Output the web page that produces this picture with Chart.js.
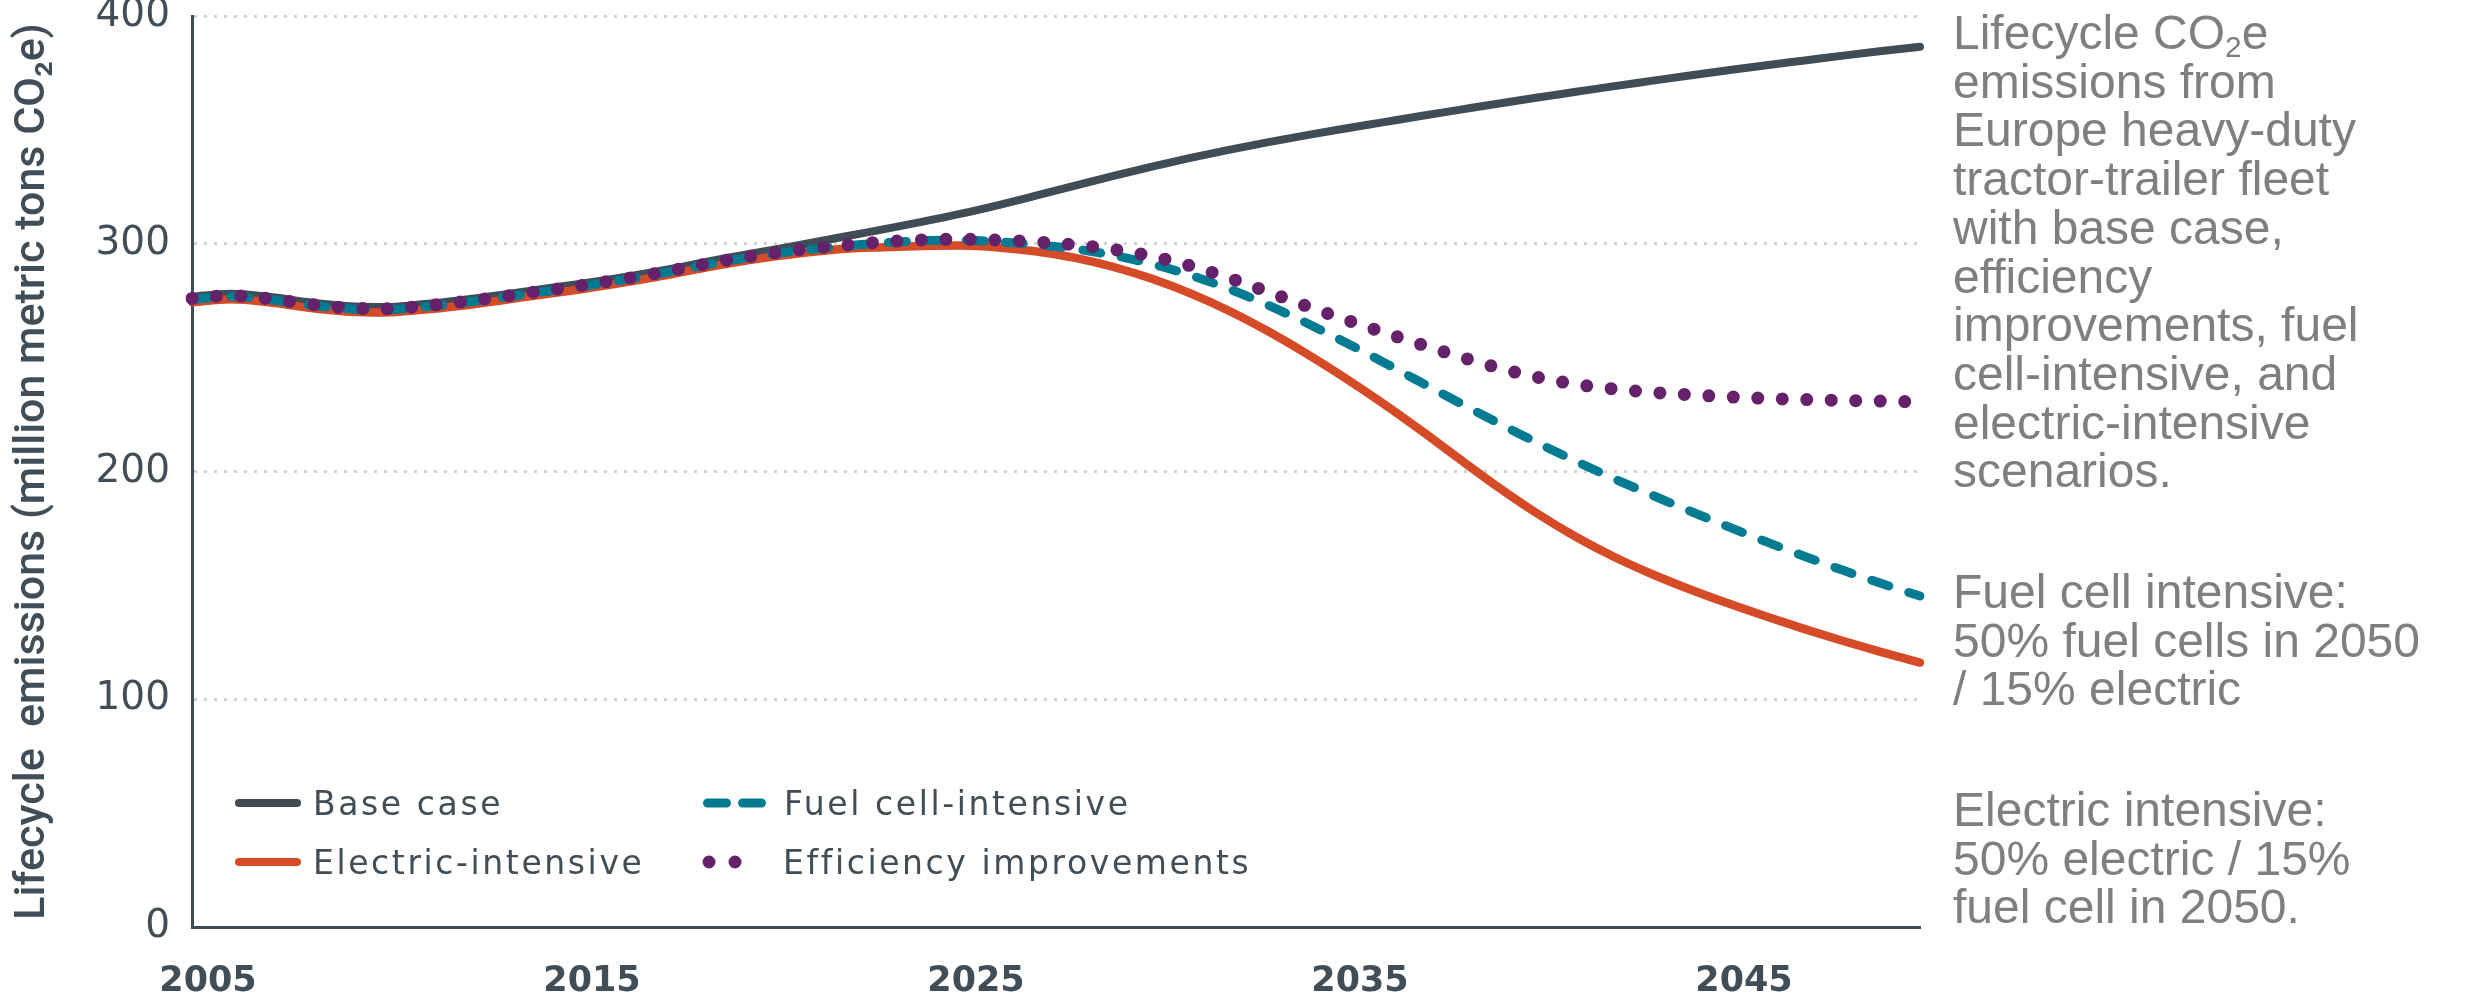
<!DOCTYPE html>
<html>
<head>
<meta charset="utf-8">
<script src="https://cdn.jsdelivr.net/npm/chart.js@4.4.1/dist/chart.umd.min.js"></script>
<style>
  html, body { margin: 0; padding: 0; background: #fff; }
  #wrap { position: relative; width: 2471px; height: 1002px; overflow: hidden; }
  #chart { position: absolute; left: 0; top: 0; }
  .note {
    position: absolute; left: 1953px;
    font-family: "Liberation Sans", Arial, sans-serif;
    font-size: 48px; line-height: 48.7px; color: #7f7f7f; white-space: nowrap;
  }
  .note sub { font-size: 0.62em; line-height: 0; vertical-align: -0.28em; }
  .key {
    position: absolute; height: 40px; display: flex; align-items: center;
    font-family: "DejaVu Sans", sans-serif; font-size: 33px; letter-spacing: 2.6px;
    color: #414d57; white-space: nowrap;
  }
  .key svg { flex: none; }
</style>
</head>
<body>
<div id="wrap">
  <canvas id="chart" width="2471" height="1002"></canvas>
  <div id="legend"></div>
  <div class="note" style="top:9px">Lifecycle CO<sub>2</sub>e<br>emissions from<br>Europe heavy-duty<br>tractor-trailer fleet<br>with base case,<br>efficiency<br>improvements, fuel<br>cell-intensive, and<br>electric-intensive<br>scenarios.</div>
  <div class="note" style="top:568px">Fuel cell intensive:<br>50% fuel cells in 2050<br>/ 15% electric</div>
  <div class="note" style="top:786px">Electric intensive:<br>50% electric / 15%<br>fuel cell in 2050.</div>
</div>
<script>
const years = ['2005','2006','2007','2008','2009','2010','2011','2012','2013','2014',
  '2015','2016','2017','2018','2019','2020','2021','2022','2023','2024',
  '2025','2026','2027','2028','2029','2030','2031','2032','2033','2034',
  '2035','2036','2037','2038','2039','2040','2041','2042','2043','2044',
  '2045','2046','2047','2048','2049','2050'];
const xTickLabels = ['2005', '2015', '2025', '2035', '2045'];

const baseCase = [276.8, 278.0, 276.7, 274.4, 272.7, 272.2, 273.4, 275.2, 277.4, 279.8,
  282.1, 284.7, 287.5, 290.7, 294.0, 297.0, 300.0, 303.2, 306.3, 309.6,
  313.1, 317.0, 321.2, 325.5, 329.8, 333.9, 337.7, 341.2, 344.5, 347.6,
  350.5, 353.3, 356.1, 358.8, 361.5, 364.1, 366.6, 369.1, 371.5, 373.9,
  376.2, 378.4, 380.5, 382.6, 384.6, 386.5];
const electricIntensive = [274.4, 275.6, 274.3, 272.0, 270.3, 269.8, 271.0, 272.8, 275.0, 277.4,
  279.7, 282.3, 285.1, 288.3, 291.4, 294.0, 296.1, 297.8, 298.5, 299.0,
  299.2, 298.4, 296.6, 293.8, 289.8, 284.6, 278.2, 270.6, 261.8, 252.0,
  241.4, 230.1, 218.1, 205.6, 193.3, 181.9, 171.7, 162.8, 155.1, 148.3,
  142.1, 136.3, 130.8, 125.6, 120.7, 116.1];
const fuelCellIntensive = [275.6, 276.8, 275.5, 273.2, 271.5, 271.0, 272.2, 274.0, 276.2, 278.6,
  280.9, 283.5, 286.3, 289.5, 292.6, 295.2, 297.3, 299.0, 300.4, 301.3,
  301.6, 300.8, 299.6, 297.7, 294.9, 291.1, 286.2, 280.2, 273.2, 265.4,
  257.0, 248.2, 239.2, 230.2, 221.4, 212.9, 204.8, 197.1, 189.8, 182.7,
  175.8, 169.1, 162.7, 156.6, 150.8, 145.3];
const efficiencyImprovements = [276.0, 277.2, 275.9, 273.6, 271.9, 271.4, 272.6, 274.4, 276.6, 279.0,
  281.3, 283.9, 286.7, 289.9, 293.0, 295.6, 297.7, 299.4, 300.8, 301.7,
  302.0, 301.6, 300.8, 299.5, 297.5, 294.5, 290.3, 285.0, 279.0, 272.8,
  266.9, 261.3, 255.8, 250.5, 245.6, 241.5, 238.4, 236.3, 234.8, 233.7,
  232.8, 232.1, 231.6, 231.2, 230.9, 230.6];

const axisColor = '#414d57';
const colors = {
  base: '#404c56',
  electric: '#d64b27',
  fuel: '#007b92',
  eff: '#65226a'
};

const datasets = [
  {
    label: 'Base case', data: baseCase, borderColor: colors.base,
    borderWidth: 8, order: 4
  },
  {
    label: 'Electric-intensive', data: electricIntensive, borderColor: colors.electric,
    borderWidth: 8.5, order: 3
  },
  {
    label: 'Fuel cell-intensive', data: fuelCellIntensive, borderColor: colors.fuel,
    borderWidth: 9, borderDash: [18, 21], order: 2
  },
  {
    label: 'Efficiency improvements', data: efficiencyImprovements, borderColor: colors.eff,
    borderWidth: 13, borderDash: [0, 24.5], order: 1
  }
];
datasets.forEach(d => {
  d.pointRadius = 0;
  d.fill = false;
  d.cubicInterpolationMode = 'monotone';
  d.borderCapStyle = 'round';
  d.borderJoinStyle = 'round';
});

new Chart(document.getElementById('chart'), {
  type: 'line',
  data: { labels: years, datasets },
  options: {
    responsive: false,
    animation: false,
    events: [],
    layout: { padding: { top: 16, right: 551, bottom: 0, left: 0 } },
    plugins: { legend: { display: false }, tooltip: { enabled: false } },
    scales: {
      x: {
        grid: { display: false },
        border: { display: true, color: axisColor, width: 3 },
        ticks: {
          autoSkip: false, maxRotation: 0, padding: 26, labelOffset: 16,
          color: axisColor,
          font: { family: '"DejaVu Sans", sans-serif', size: 35, weight: 'bold' },
          callback: function (v) {
            const lbl = this.getLabelForValue(v);
            return xTickLabels.includes(lbl) ? lbl : '';
          }
        },
        afterFit: s => { s.height = 75; s.paddingLeft = 0; s.paddingRight = 0; }
      },
      y: {
        min: 0, max: 400,
        grid: { color: '#d3d3d3', lineWidth: 3, drawTicks: false },
        border: { display: true, color: axisColor, width: 3, dash: [3, 7] },
        ticks: {
          stepSize: 100, padding: 22, color: axisColor,
          font: { family: '"DejaVu Sans", sans-serif', size: 39 }
        },
        title: {
          display: true,
          text: 'Lifecycle  emissions (million metric tons CO₂e)',
          color: axisColor,
          font: { family: 'Roboto, sans-serif', size: 43, weight: '500' },
          padding: { top: 7, bottom: 0 }
        },
        afterFit: s => { s.width = 192; s.paddingTop = 0; s.paddingBottom = 0; }
      }
    }
  }
});

// legend, placed inside the plot area like the original
const legendSpots = [
  { i: 0, left: 235, top: 783, gap: 12 },
  { i: 2, left: 703, top: 783, gap: 15 },
  { i: 1, left: 235, top: 842, gap: 12 },
  { i: 3, left: 702, top: 842, gap: 15 }
];
function swatch(ds) {
  let line;
  if (ds.borderDash && ds.borderDash[0] === 0) {
    line = '<line x1="7" y1="8" x2="59" y2="8" stroke-width="13" stroke-dasharray="0 26"';
  } else if (ds.borderDash) {
    line = '<line x1="4.5" y1="8" x2="61.5" y2="8" stroke-width="9" stroke-dasharray="19 16"';
  } else {
    line = '<line x1="4" y1="8" x2="62" y2="8" stroke-width="8"';
  }
  return '<svg width="66" height="16">' + line + ' stroke="' + ds.borderColor +
    '" stroke-linecap="round"/></svg>';
}
const legendEl = document.getElementById('legend');
legendSpots.forEach(p => {
  const ds = datasets[p.i];
  const el = document.createElement('div');
  el.className = 'key';
  el.style.left = p.left + 'px';
  el.style.top = p.top + 'px';
  el.innerHTML = swatch(ds) + '<span style="margin-left:' + p.gap + 'px">' + ds.label + '</span>';
  legendEl.appendChild(el);
});
</script>
</body>
</html>
